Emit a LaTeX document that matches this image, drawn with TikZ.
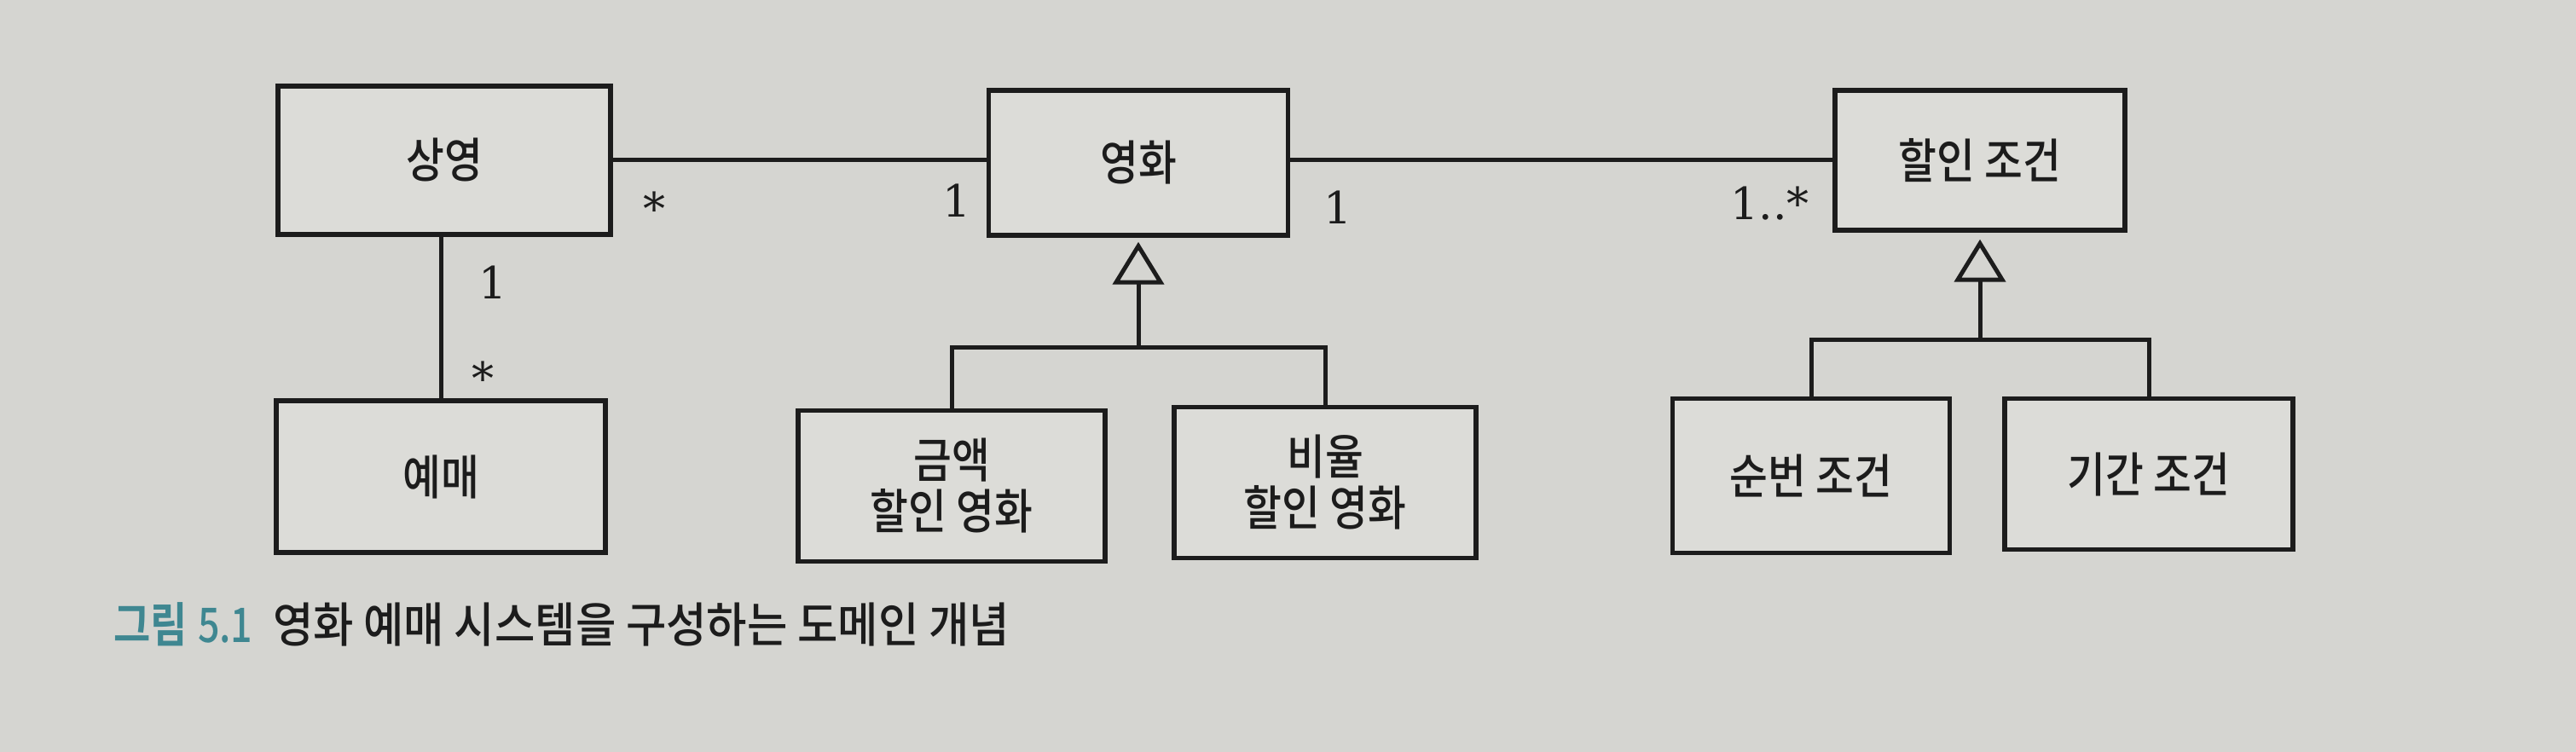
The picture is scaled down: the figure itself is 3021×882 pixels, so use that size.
\documentclass[tikz,border=0pt]{standalone}
\usepackage{fontspec}
\newfontfamily\kr{Noto Sans CJK KR Medium}[FakeStretch=0.87]
\newfontfamily\krcap{Noto Sans CJK KR Medium}[FakeStretch=0.92]
\newfontfamily\krcapnum{Noto Sans CJK KR Medium}[FakeStretch=0.8]
\newfontfamily\krbold{Noto Sans CJK KR Bold}[FakeStretch=0.84]
\newfontfamily\multfont{DejaVu Serif}
\usetikzlibrary{arrows.meta}
\definecolor{bg}{HTML}{D5D5D1}
\definecolor{boxfill}{HTML}{DCDCD8}
\definecolor{capteal}{HTML}{3F8791}
\definecolor{ink}{HTML}{1C1C1C}
\begin{document}
\begin{tikzpicture}[x=1pt,y=-1pt,
  cls/.style={draw=ink, line width=5.5pt, fill=boxfill, text=ink,
    font=\kr\fontsize{56}{60}\selectfont, align=center, inner sep=0pt},
  assoc/.style={draw=ink, line width=5pt},
  gen/.style={draw=ink, line width=5pt,
    -{Triangle[open, length=50pt, width=60pt]}},
  mult/.style={font=\multfont\fontsize{52}{60}\selectfont, text=ink, inner sep=0pt, anchor=base},
  captext/.style={inner sep=0pt, anchor=base west}
]
\useasboundingbox (0,0) rectangle (3021,882);
\fill[bg] (0,0) rectangle (3021,882);

% classes
\node[cls, minimum width=390pt, minimum height=174pt] (sy) at (521,188) {상영};
\node[cls, minimum width=386pt, minimum height=178pt] (ym) at (517,559) {예매};
\node[cls, minimum width=351pt, minimum height=170pt] (yh) at (1335,191) {영화};
\node[cls, minimum width=340pt, minimum height=164pt] (hj) at (2322,188) {할인 조건};
\node[cls, minimum width=360pt, minimum height=177pt] (gm) at (1116,570) {금액\\할인 영화};
\node[cls, minimum width=354pt, minimum height=177pt] (bi) at (1554,566) {비율\\할인 영화};
\node[cls, minimum width=325pt, minimum height=181pt] (sb) at (2124,558) {순번 조건};
\node[cls, minimum width=338pt, minimum height=177pt] (gg) at (2520,556) {기간 조건};

% associations
\draw[assoc] (sy.east) -- (sy.east -| yh.west);
\draw[assoc] (yh.east |- sy.east) -- (hj.west |- sy.east);
\draw[assoc] (ym.north) -- (ym.north |- sy.south);

% generalizations
\coordinate (j1) at (1335,407);
\coordinate (j2) at (2322,398);
\draw[gen, shorten >=5pt] (j1) -- (yh.south);
\draw[assoc] (gm.north) |- (j1) -| (bi.north);
\draw[gen, shorten >=8pt] (j2) -- (hj.south);
\draw[assoc] (sb.north) |- (j2) -| (gg.north);

% multiplicities
\node[mult] (m1) at (767,264) {*};
\node[mult] (m2) at (1122,255) {1};
\node[mult] (m3) at (578,350) {1};
\node[mult] (m4) at (566,462) {*};
\node[mult] (m5) at (1569,263) {1};
\node[mult, anchor=base east] (m6) at (2122,258) {1..*};

% caption
\node[captext, text=capteal, font=\krbold\fontsize{56}{60}\selectfont] (c1) at (133,753) {그림\hspace{0.22em}{\krcapnum 5.1}};
\node[captext, text=ink, font=\krcap\fontsize{56}{60}\selectfont] (c2) at (320,753) {영화 예매 시스템을 구성하는 도메인 개념};
\end{tikzpicture}
\end{document}
